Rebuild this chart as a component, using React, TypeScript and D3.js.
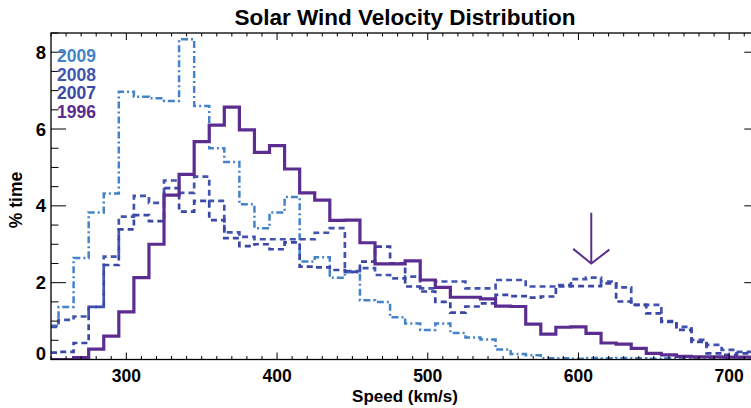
import React from "react";
import * as d3 from "d3";

const speeds = [250, 260, 270, 280, 290, 300, 310, 320, 330, 340, 350, 360, 370, 380, 390, 400, 410, 420, 430, 440, 450, 460, 470, 480, 490, 500, 510, 520, 530, 540, 550, 560, 570, 580, 590, 600, 610, 620, 630, 640, 650, 660, 670, 680, 690, 700, 710, 720];

const y1996 = [0, 0, 0.05, 0.27, 0.61, 1.24, 2.13, 3.0, 4.28, 4.82, 5.67, 6.1, 6.57, 5.98, 5.39, 5.57, 4.96, 4.34, 4.15, 3.62, 3.63, 3.04, 2.49, 2.49, 2.57, 2.07, 1.88, 1.62, 1.62, 1.58, 1.39, 1.38, 0.92, 0.66, 0.84, 0.85, 0.68, 0.43, 0.4, 0.29, 0.16, 0.12, 0.08, 0.07, 0.07, 0.06, 0.06, 0.06];

const y2009 = [0.88, 1.37, 2.64, 3.83, 4.32, 6.97, 6.84, 6.8, 6.73, 8.34, 6.6, 5.5, 5.14, 4.04, 3.42, 3.83, 4.23, 2.55, 2.66, 2.13, 2.27, 1.54, 1.5, 1.1, 0.94, 0.77, 0.94, 0.69, 0.57, 0.52, 0.26, 0.14, 0.11, 0.03, 0.03, 0.02, 0.04, 0.03, 0.04, 0.03, 0.02, 0.03, 0.02, 0.03, 0.03, 0.04, 0.04, 0.04];

const y2008 = [0.85, 1.03, 1.12, 1.37, 2.68, 3.72, 4.26, 4.08, 4.66, 4.34, 4.76, 4.13, 3.31, 3.19, 3.13, 3.13, 3.13, 3.13, 3.3, 3.42, 2.3, 2.38, 2.2, 2.11, 2.16, 1.85, 2.03, 2.03, 1.85, 1.85, 2.07, 2.07, 1.9, 1.9, 1.94, 2.09, 2.13, 2.03, 1.88, 1.42, 1.42, 1.0, 0.85, 0.51, 0.38, 0.25, 0.2, 0.2];

const y2007 = [0.18, 0.2, 0.43, 1.37, 2.46, 3.39, 3.76, 3.6, 4.46, 3.85, 4.13, 3.63, 3.16, 2.95, 3.0, 2.87, 3.05, 2.42, 2.4, 2.33, 2.28, 2.55, 2.94, 2.5, 1.9, 1.77, 1.5, 1.22, 1.38, 1.46, 1.68, 1.65, 1.61, 1.64, 1.9, 1.91, 1.91, 1.98, 1.51, 1.42, 1.2, 0.98, 0.77, 0.46, 0.16, 0.12, 0.16, 0.16];

const xTickValues = [300, 400, 500, 600, 700];
const yTickValues = [0, 2, 4, 6, 8];
const legendLabels = ["2009", "2008", "2007", "1996"];

const C1996 = "#5b2d90";
const C2009 = "#4583c9";
const C2008 = "#4155b0";
const C2007 = "#3a47a6";

export default function App() {
  const W = 751, H = 408;
  const x = d3.scaleLinear().domain([250, 720]).range([51, 759.3]);
  const y = d3.scaleLinear().domain([0, 8.5]).range([359.5, 33]);
  const [x0, x1] = x.range();
  const [yb, yt] = y.range();

  const line = (vals: number[]) =>
    d3.line<number>()
      .x((_, i) => x(speeds[i]))
      .y((d) => y(d))
      .curve(d3.curveStep)(vals) || "";

  const minorX = d3.range(250, 721, 10);
  const minorY = d3.range(0, 8.51, 0.5);
  const font = "'Liberation Sans', Arial, Helvetica, sans-serif";

  const series = [
    { vals: y2009, color: C2009, dash: "7,3,2,3", w: 2.5 },
    { vals: y2008, color: C2008, dash: "6,4", w: 2.7 },
    { vals: y2007, color: C2007, dash: "6,4", w: 2.7 },
    { vals: y1996, color: C1996, dash: undefined, w: 3.2 },
  ];
  const legendColors = [C2009, C2008, C2007, C1996];

  return (
    <svg width={W} height={H} style={{ position: "fixed", left: 0, top: 0, background: "#fff" }}>
      <defs>
        <clipPath id="plot">
          <rect x={x0} y={yt - 2} width={x1 - x0} height={yb - yt + 2} />
        </clipPath>
      </defs>
      <text x={405} y={25} textAnchor="middle" fontFamily={font} fontWeight="bold" fontSize={22.5}>
        Solar Wind Velocity Distribution
      </text>
      <g clipPath="url(#plot)">
        {series.map((s, i) => (
          <path key={i} d={line(s.vals)} fill="none" stroke={s.color} strokeWidth={s.w}
            strokeDasharray={s.dash} strokeLinejoin="miter" />
        ))}
      </g>
      <rect x={x0} y={yt} width={x1 - x0} height={yb - yt} fill="none" stroke="#000" strokeWidth={1.3} />
      {minorX.map((v) => {
        const major = v % 100 === 0;
        const len = major ? 7 : 3.5;
        return (
          <g key={"xt" + v}>
            <line x1={x(v)} x2={x(v)} y1={yb} y2={yb - len} stroke="#000" strokeWidth={1} />
            <line x1={x(v)} x2={x(v)} y1={yt} y2={yt + len} stroke="#000" strokeWidth={1} />
          </g>
        );
      })}
      {minorY.map((v) => {
        const major = Math.abs(v % 2) < 1e-6;
        const len = major ? 15 : 7.5;
        return (
          <g key={"yt" + v}>
            <line x1={x0} x2={x0 + len} y1={y(v)} y2={y(v)} stroke="#000" strokeWidth={1} />
            <line x1={x1} x2={x1 - len} y1={y(v)} y2={y(v)} stroke="#000" strokeWidth={1} />
          </g>
        );
      })}
      {xTickValues.map((v) => (
        <text key={"xl" + v} x={x(v)} y={381.5} textAnchor="middle" fontFamily={font} fontWeight="bold" fontSize={17.5}>
          {v}
        </text>
      ))}
      {yTickValues.map((v) => (
        <text key={"yl" + v} x={46} y={y(v) + (v === 0 ? -6 : 0)} textAnchor="end" dominantBaseline="central"
          fontFamily={font} fontWeight="bold" fontSize={18.5}>
          {v}
        </text>
      ))}
      <text x={405} y={401.5} textAnchor="middle" fontFamily={font} fontWeight="bold" fontSize={17}>
        Speed (km/s)
      </text>
      <text transform={`translate(22,${200}) rotate(-90)`} textAnchor="middle" fontFamily={font} fontWeight="bold" fontSize={17.5}>
        % time
      </text>
      {legendLabels.map((t, i) => (
        <text key={t} x={57} y={61.7 + i * 18.8} fontFamily={font} fontWeight="bold" fontSize={17.5} fill={legendColors[i]}>
          {t}
        </text>
      ))}
      <g stroke={C1996} strokeWidth={2} fill="none">
        <line x1={x(608.5)} x2={x(608.5)} y1={y(3.82)} y2={y(2.5)} />
        <polyline points={`${x(596.5)},${y(2.88)} ${x(608.5)},${y(2.5)} ${x(620.5)},${y(2.86)}`} />
      </g>
    </svg>
  );
}
